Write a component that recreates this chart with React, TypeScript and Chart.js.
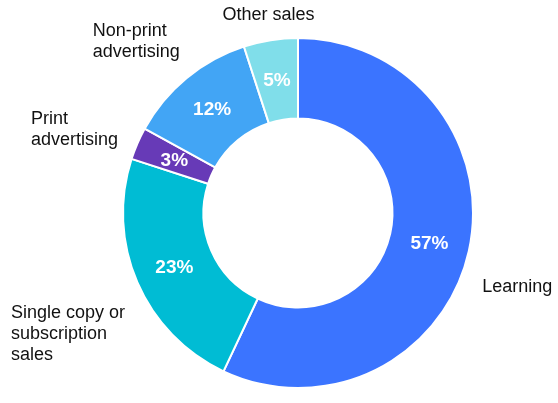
import React, { useEffect, useRef } from "react";
import { Chart, registerables } from "chart.js";

Chart.register(...registerables);

const categories: string[][] = [
  ["Learning"],
  ["Single copy or", "subscription", "sales"],
  ["Print", "advertising"],
  ["Non-print", "advertising"],
  ["Other sales"],
];
const values: number[] = [57, 23, 3, 12, 5];
const percentLabels: string[] = ["57%", "23%", "3%", "12%", "5%"];
const colors: string[] = ["#3B74FF", "#00BCD4", "#673AB7", "#42A5F5", "#80DEEA"];

// label layout tweaks (pixel nudges relative to the angle-derived anchor)
const labelNudges: [number, number][] = [
  [-6, 31],
  [6, 44],
  [-1, -6],
  [6, -21],
  [1, -5],
];

const labelPlugin = {
  id: "pieLabels",
  afterDatasetsDraw(chart: any) {
    const ctx = chart.ctx as CanvasRenderingContext2D;
    const meta = chart.getDatasetMeta(0);
    ctx.save();
    meta.data.forEach((arc: any, i: number) => {
      const { x, y, startAngle, endAngle, innerRadius, outerRadius } = arc.getProps(
        ["x", "y", "startAngle", "endAngle", "innerRadius", "outerRadius"],
        true
      );
      const mid = (startAngle + endAngle) / 2;
      const cos = Math.cos(mid);
      const sin = Math.sin(mid);
      // inner percentage
      const rIn = (innerRadius + outerRadius) / 2;
      ctx.fillStyle = "#ffffff";
      ctx.font = "bold 19px 'Liberation Sans', Arial, sans-serif";
      ctx.textAlign = "center";
      ctx.textBaseline = "middle";
      ctx.fillText(percentLabels[i], x + cos * rIn, y + sin * rIn + 1);

      // outer category label
      const rOut = outerRadius + 20;
      const ax = x + cos * rOut + labelNudges[i][0];
      const ay = y + sin * rOut + labelNudges[i][1];
      const lines = categories[i];
      ctx.font = "18px 'Liberation Sans', Arial, sans-serif";
      ctx.fillStyle = "#111111";
      ctx.textAlign = "left";
      ctx.textBaseline = "middle";
      const lh = 21;
      const w = Math.max(...lines.map((l) => ctx.measureText(l).width));
      let left: number;
      if (cos > 0.2) left = ax;
      else if (cos < -0.2) left = ax - w;
      else left = ax - w / 2;
      const top = ay - ((lines.length - 1) * lh) / 2;
      lines.forEach((l, k) => {
        ctx.fillText(l, left, top + k * lh);
      });
    });
    ctx.restore();
  },
};

export default function App() {
  const ref = useRef<HTMLCanvasElement | null>(null);
  useEffect(() => {
    if (!ref.current) return;
    const chart = new Chart(ref.current, {
      type: "doughnut",
      data: {
        labels: categories.map((c) => c.join(" ")),
        datasets: [
          {
            data: values,
            backgroundColor: colors,
            borderColor: "#ffffff",
            borderWidth: 2,
          },
        ],
      },
      options: {
        animation: false,
        responsive: true,
        maintainAspectRatio: false,
        cutout: "54%",
        layout: { padding: { top: 37, bottom: 14, left: 122, right: 84 } },
        plugins: {
          legend: { display: false },
          tooltip: { enabled: false },
        },
      },
      plugins: [labelPlugin],
    });
    return () => chart.destroy();
  }, []);
  return (
    <div style={{ position: "absolute", left: 0, top: 0, width: 558, height: 403, background: "#fff" }}>
      <canvas ref={ref} />
    </div>
  );
}
